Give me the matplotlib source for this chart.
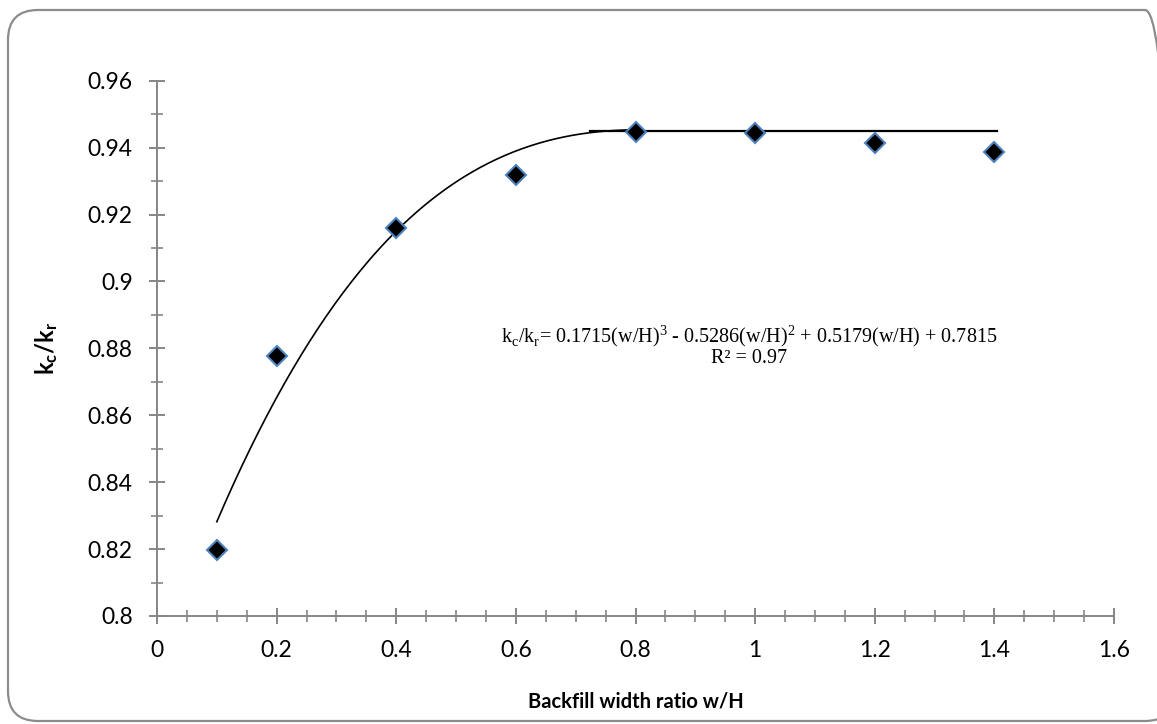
import numpy as np
import matplotlib
matplotlib.use("Agg")
import matplotlib.pyplot as plt
from matplotlib.patches import FancyBboxPatch
from matplotlib.ticker import MultipleLocator

plt.rcParams["mathtext.fontset"] = "custom"
plt.rcParams["mathtext.bf"] = "Lato:bold"
plt.rcParams["mathtext.rm"] = "Lato"

# Data
w_H = [0.1, 0.2, 0.4, 0.6, 0.8, 1.0, 1.2, 1.4]
kc_kr = [0.8198, 0.8777, 0.916, 0.9318, 0.9446, 0.9443, 0.9415, 0.9388]
poly_coeffs = [0.1715, -0.5286, 0.5179, 0.7815]   # trendline from the chart equation
poly_range = [0.1, 0.8]
plateau_value = 0.945
plateau_range = [0.724, 1.405]
x_ticks = [0, 0.2, 0.4, 0.6, 0.8, 1, 1.2, 1.4, 1.6]
y_ticks = [0.8, 0.82, 0.84, 0.86, 0.88, 0.9, 0.92, 0.94, 0.96]

W, H = 1157, 724
fig = plt.figure(figsize=(W / 100, H / 100), dpi=100)
fig.patch.set_facecolor("white")

# rounded chart border (display pixel coordinates)
border = FancyBboxPatch((8, H - 721), 1175 - 8, 721 - 10,
                        boxstyle="round,pad=0,rounding_size=30",
                        transform=None, facecolor="none",
                        edgecolor="#8c8c8c", linewidth=1.6, clip_on=False)
fig.patches.append(border)

ax = fig.add_axes([157 / W, 1 - 616 / H, (1114 - 157) / W, (616 - 80.7) / H])
ax.set_facecolor("none")

# trendline
xs = np.linspace(poly_range[0], poly_range[1], 200)
ax.plot(xs, np.polyval(poly_coeffs, xs), color="black", lw=1.2, zorder=2)
ax.plot(plateau_range, [plateau_value, plateau_value], color="black", lw=1.6, zorder=2)

# markers
ax.plot(w_H, kc_kr, linestyle="none", marker="D", ms=10, color="black",
        markeredgecolor="#4f81bd", markeredgewidth=1.5, zorder=3, clip_on=False)

ax.set_xlim(0, 1.6)
ax.set_ylim(0.8, 0.96)
ax.set_xticks(x_ticks)
ax.set_yticks(y_ticks)
ax.set_xticklabels([f"{t:g}" for t in x_ticks])
ax.set_yticklabels([f"{t:g}" for t in y_ticks])
ax.xaxis.set_minor_locator(MultipleLocator(0.05))
ax.yaxis.set_minor_locator(MultipleLocator(0.01))

for s in ["top", "right"]:
    ax.spines[s].set_visible(False)
for s in ["left", "bottom"]:
    ax.spines[s].set_color("#868686")
    ax.spines[s].set_linewidth(1.4)

font = "Lato"
ax.tick_params(which="major", direction="inout", length=11, width=1.4, color="#868686",
               labelsize=16.5)
ax.tick_params(axis="y", which="major", pad=12)
ax.tick_params(axis="x", which="major", pad=12)
ax.tick_params(which="minor", direction="inout", length=8, width=1.2, color="#868686")
for lab in ax.get_xticklabels() + ax.get_yticklabels():
    lab.set_fontfamily(font)

ax.set_xlabel("Backfill width ratio w/H", fontsize=14.5, fontweight="bold",
              fontfamily=font, labelpad=22)
ax.set_ylabel(r"$\mathbf{k_c/k_r}$", fontsize=17, labelpad=20)

ax.text(0.99, 0.8838,
        r"k$_\mathregular{c}$/k$_\mathregular{r}$= 0.1715(w/H)$^\mathregular{3}$ - 0.5286(w/H)$^\mathregular{2}$ + 0.5179(w/H) + 0.7815",
        fontsize=14.5, fontfamily="Liberation Serif", ha="center", va="center")
ax.text(0.99, 0.8770, "R² = 0.97", fontsize=14.5, fontfamily="Liberation Serif",
        ha="center", va="center")

fig.savefig("out.png", dpi=100)
